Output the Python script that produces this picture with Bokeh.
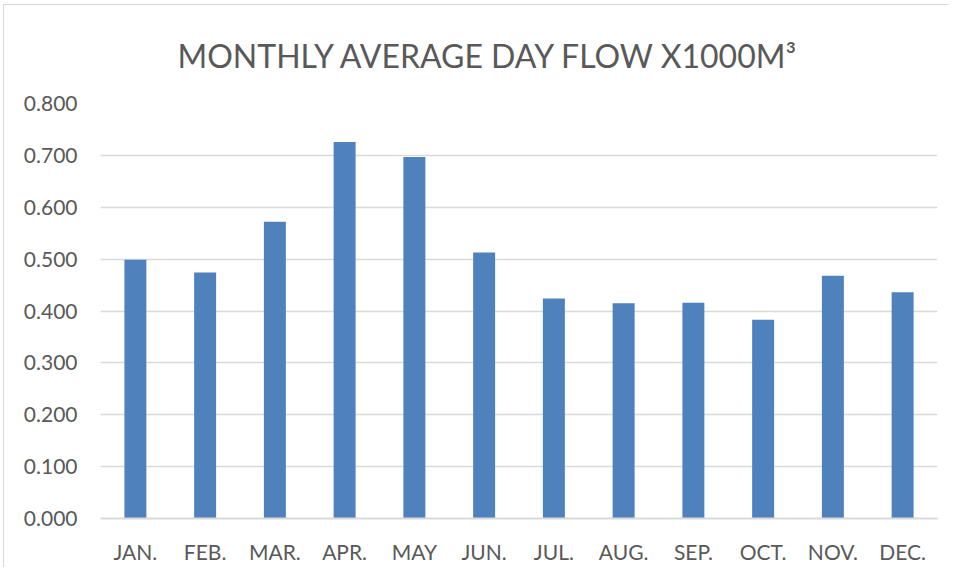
from bokeh.plotting import figure
from bokeh.models import FactorRange, Range1d, SingleIntervalTicker, NumeralTickFormatter, ColumnDataSource
from bokeh.embed import file_html
from bokeh.resources import INLINE

months = ["JAN.", "FEB.", "MAR.", "APR.", "MAY", "JUN.", "JUL.", "AUG.", "SEP.", "OCT.", "NOV.", "DEC."]
flow = [0.499, 0.474, 0.572, 0.726, 0.697, 0.513, 0.424, 0.415, 0.416, 0.383, 0.468, 0.436]
title_text = "MONTHLY AVERAGE DAY FLOW X1000M³"

TXT = "#595959"
GRID = "#D9D9D9"
FONT = "Lato"

src = ColumnDataSource(data=dict(month=months, flow=flow))

p = figure(x_range=FactorRange(*months), y_range=Range1d(0, 0.8),
           width=946, height=563, output_backend="svg", toolbar_location=None,
           min_border_left=96, min_border_right=13, min_border_top=98, min_border_bottom=50)
p.x_range.range_padding = 0

p.vbar(x="month", top="flow", width=0.315, source=src, fill_color="#4F81BD", line_color=None)

p.title.text = title_text
p.title.align = "left"
p.title.offset = 77
p.title.text_font = FONT
p.title.text_font_size = "32px"
p.title.text_font_style = "normal"
p.title.text_color = TXT
p.title.standoff = 57

p.outline_line_color = None
p.xgrid.grid_line_color = None
p.ygrid.grid_line_color = GRID
p.ygrid.grid_line_width = 1.5
p.yaxis.ticker = SingleIntervalTicker(interval=0.1)
p.yaxis.formatter = NumeralTickFormatter(format="0.000")

for ax in (p.xaxis, p.yaxis):
    ax.major_tick_line_color = None
    ax.minor_tick_line_color = None
    ax.major_label_text_font = FONT
    ax.major_label_text_font_size = "21px"
    ax.major_label_text_color = TXT
p.yaxis.axis_line_color = None
p.yaxis.major_label_standoff = 17
p.xaxis.axis_line_color = GRID
p.xaxis.axis_line_width = 2
p.xaxis.major_label_standoff = 14

p.styles = {"border-left": "1px solid #D9D9D9", "border-top": "1px solid #D9D9D9",
            "margin-left": "3px", "margin-top": "4px"}

open("out.html", "w").write(file_html(p, INLINE))
